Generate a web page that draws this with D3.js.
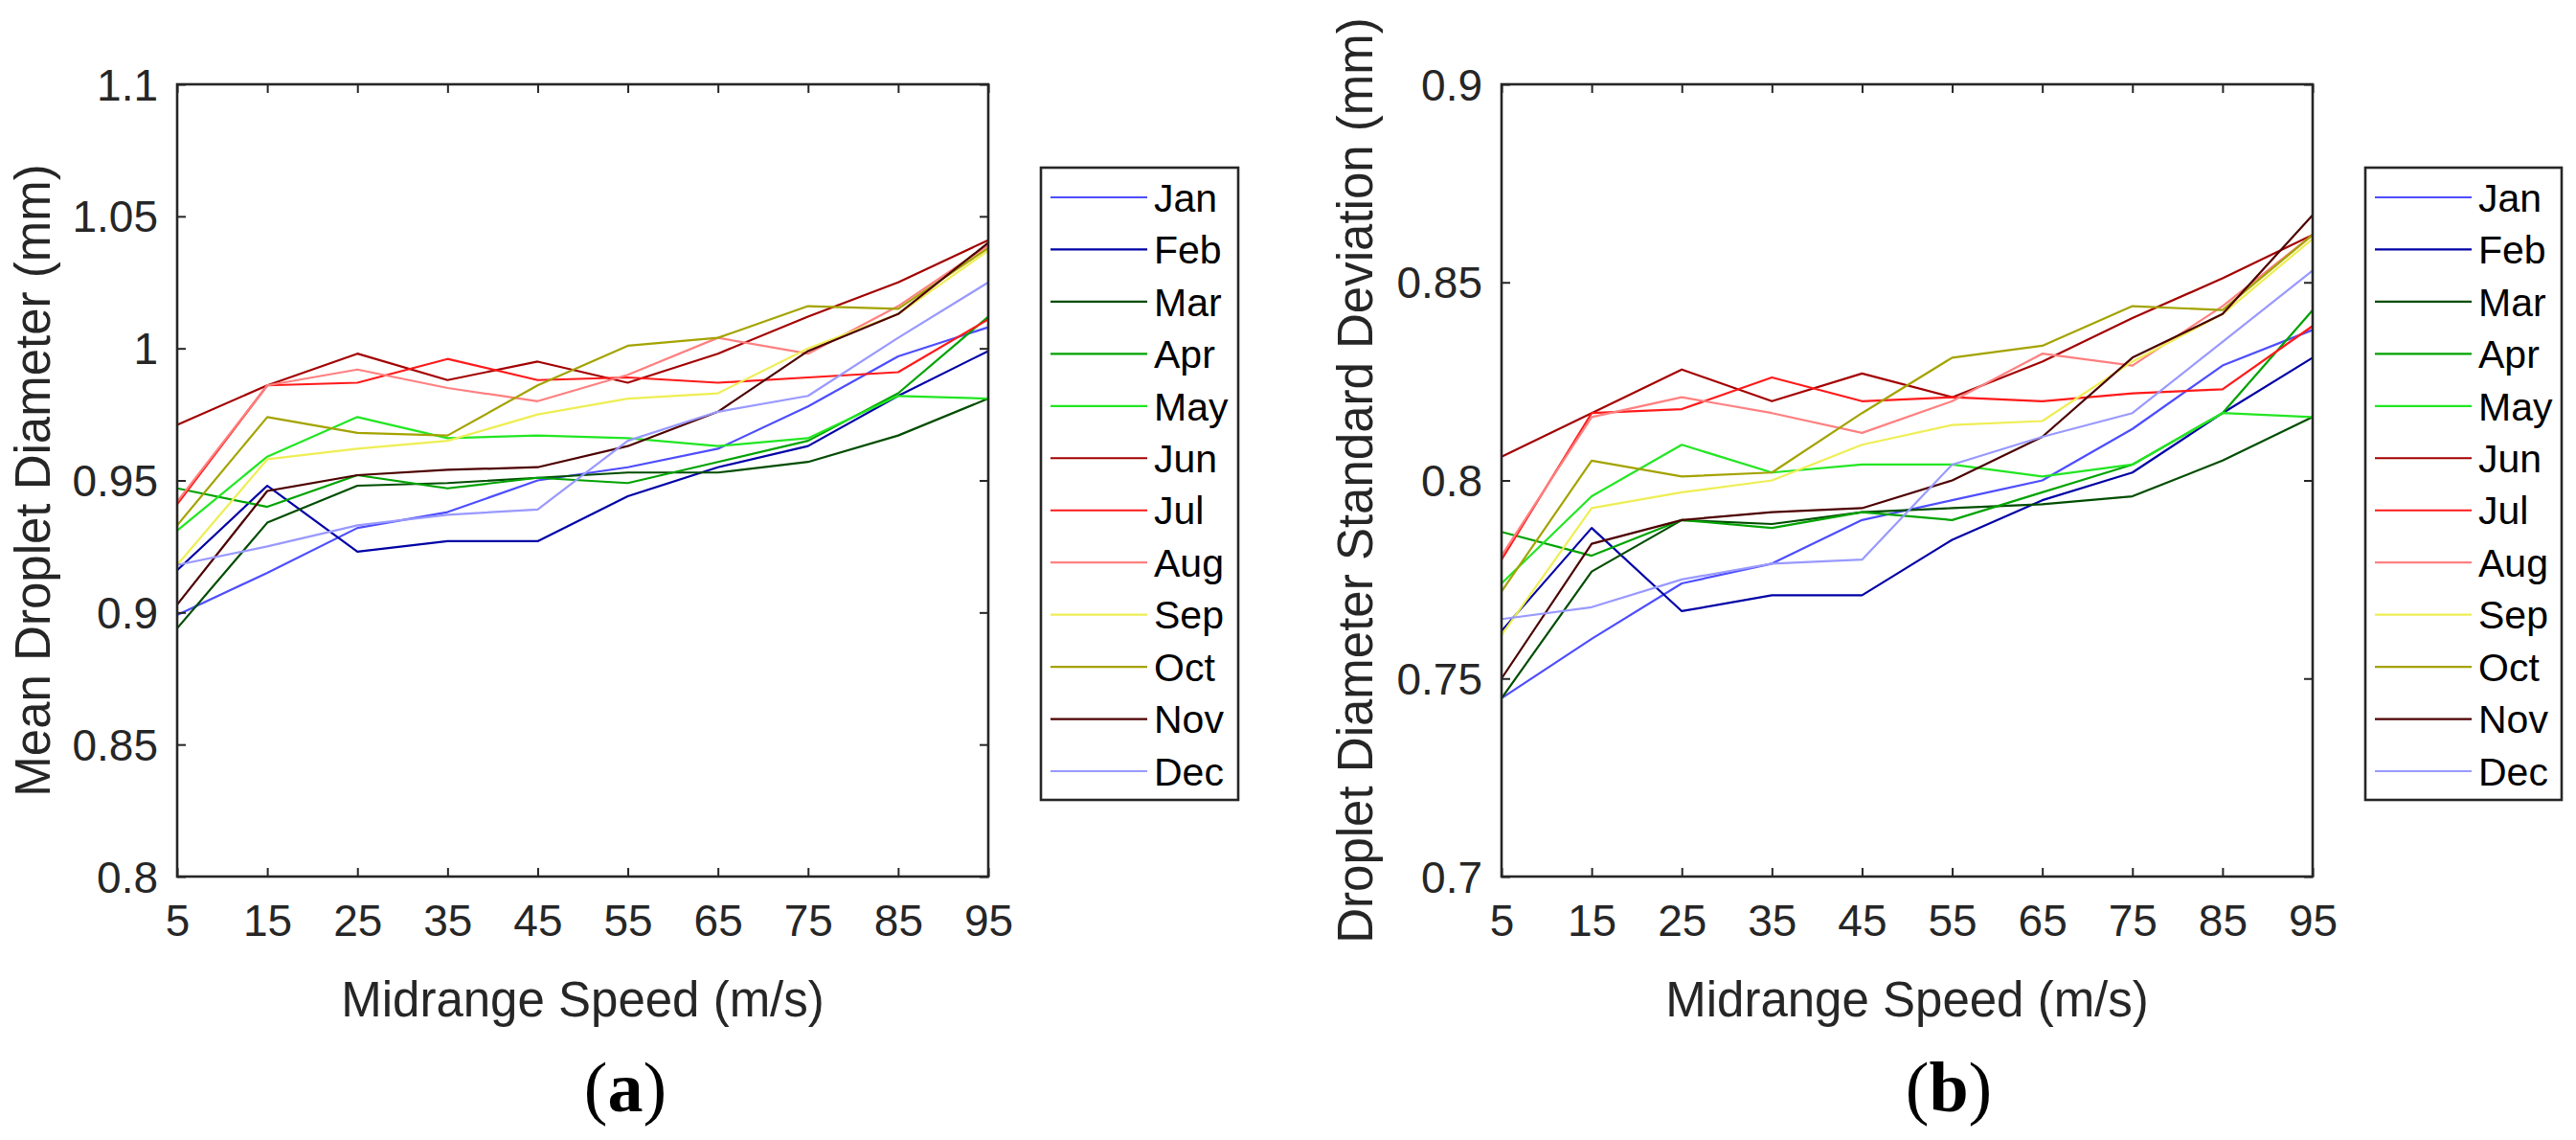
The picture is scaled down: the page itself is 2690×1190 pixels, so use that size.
<!DOCTYPE html>
<html>
<head>
<meta charset="utf-8">
<script src="https://cdn.jsdelivr.net/npm/d3@7/dist/d3.min.js"></script>
<style>
  html, body { margin: 0; padding: 0; background: #ffffff; }
  svg { display: block; }
</style>
</head>
<body>
<svg id="chart" width="2690" height="1190"></svg>
<script>
// ---------------- DATA ----------------
const months = ["Jan","Feb","Mar","Apr","May","Jun","Jul","Aug","Sep","Oct","Nov","Dec"];
const monthColors = ["#4d4dff","#0000a6","#004d00","#00a300","#22e622","#a30000",
                     "#ff1a1a","#ff8080","#eeee55","#a3a300","#4d0000","#9999ff"];
const speeds = [5, 15, 25, 35, 45, 55, 65, 75, 85, 95];

// (a) Mean droplet diameter (mm), one row per month
const meanDiameter = [
  [0.899, 0.915, 0.932, 0.938, 0.950, 0.955, 0.962, 0.978, 0.997, 1.008], // Jan
  [0.916, 0.948, 0.923, 0.927, 0.927, 0.944, 0.955, 0.963, 0.982, 0.999], // Feb
  [0.894, 0.934, 0.948, 0.949, 0.951, 0.953, 0.953, 0.957, 0.967, 0.981], // Mar
  [0.947, 0.940, 0.952, 0.947, 0.951, 0.949, 0.957, 0.965, 0.983, 1.012], // Apr
  [0.931, 0.959, 0.974, 0.966, 0.967, 0.966, 0.963, 0.966, 0.982, 0.981], // May
  [0.971, 0.986, 0.998, 0.988, 0.995, 0.987, 0.998, 1.012, 1.025, 1.041], // Jun
  [0.941, 0.986, 0.987, 0.996, 0.988, 0.989, 0.987, 0.989, 0.991, 1.011], // Jul
  [0.942, 0.986, 0.992, 0.985, 0.980, 0.990, 1.004, 0.998, 1.016, 1.039], // Aug
  [0.918, 0.958, 0.962, 0.965, 0.975, 0.981, 0.983, 1.000, 1.013, 1.037], // Sep
  [0.933, 0.974, 0.968, 0.967, 0.986, 1.001, 1.004, 1.016, 1.015, 1.038], // Oct
  [0.903, 0.946, 0.952, 0.954, 0.955, 0.963, 0.976, 0.999, 1.013, 1.040], // Nov
  [0.918, 0.925, 0.933, 0.937, 0.939, 0.965, 0.976, 0.982, 1.004, 1.025]  // Dec
];

// (b) Droplet diameter standard deviation (mm), one row per month
const stdDeviation = [
  [0.745, 0.760, 0.774, 0.779, 0.790, 0.795, 0.800, 0.813, 0.829, 0.838], // Jan
  [0.762, 0.788, 0.767, 0.771, 0.771, 0.785, 0.795, 0.802, 0.817, 0.831], // Feb
  [0.745, 0.777, 0.790, 0.789, 0.792, 0.793, 0.794, 0.796, 0.805, 0.816], // Mar
  [0.787, 0.781, 0.790, 0.788, 0.792, 0.790, 0.797, 0.804, 0.817, 0.843], // Apr
  [0.774, 0.796, 0.809, 0.802, 0.804, 0.804, 0.801, 0.804, 0.817, 0.816], // May
  [0.806, 0.817, 0.828, 0.820, 0.827, 0.821, 0.830, 0.841, 0.851, 0.862], // Jun
  [0.780, 0.817, 0.818, 0.826, 0.820, 0.821, 0.820, 0.822, 0.823, 0.839], // Jul
  [0.781, 0.816, 0.821, 0.817, 0.812, 0.820, 0.832, 0.829, 0.844, 0.862], // Aug
  [0.761, 0.793, 0.797, 0.800, 0.809, 0.814, 0.815, 0.830, 0.842, 0.861], // Sep
  [0.772, 0.805, 0.801, 0.802, 0.817, 0.831, 0.834, 0.844, 0.843, 0.862], // Oct
  [0.750, 0.784, 0.790, 0.792, 0.793, 0.800, 0.811, 0.831, 0.842, 0.867], // Nov
  [0.765, 0.768, 0.775, 0.779, 0.780, 0.804, 0.811, 0.817, 0.835, 0.853]  // Dec
];

const yTicksA = [0.8, 0.85, 0.9, 0.95, 1.0, 1.05, 1.1];
const yTicksB = [0.7, 0.75, 0.8, 0.85, 0.9];

// ---------------- DRAW ----------------
const svg = d3.select("#chart");
const axisColor = "#262626";
const sansFont = "'Liberation Sans', Arial, Helvetica, sans-serif";
const serifFont = "'Liberation Serif', 'Times New Roman', serif";

function panel(opts) {
  const { x0, x1, y0, y1, yDomain, yTicks, values, yLabel, yLabelX,
          legendX, legendW, tag, tagX } = opts;

  const x = d3.scaleLinear().domain([5, 95]).range([x0, x1]);
  const y = d3.scaleLinear().domain(yDomain).range([y1, y0]);
  const g = svg.append("g");

  // data lines
  const line = d3.line().x((d, i) => x(speeds[i])).y(d => y(d));
  values.forEach((row, k) => {
    g.append("path")
      .datum(row)
      .attr("d", line)
      .attr("fill", "none")
      .attr("stroke", monthColors[k])
      .attr("stroke-width", 2.2)
      .attr("stroke-linejoin", "round");
  });

  const tickLen = 9;
  const fmt = d => String(+d.toFixed(2));

  // bottom axis
  const bottom = g.append("g").attr("transform", `translate(0,${y1})`)
    .call(d3.axisBottom(x).tickValues(speeds).tickSize(-tickLen).tickPadding(0).tickFormat(d3.format("d")));
  bottom.selectAll("text").attr("dy", null).attr("y", 62)
    .attr("font-family", sansFont).attr("font-size", 46).attr("fill", axisColor);
  // top axis
  g.append("g").attr("transform", `translate(0,${y0})`)
    .call(d3.axisTop(x).tickValues(speeds).tickSize(-tickLen).tickFormat(""));
  // left axis
  const left = g.append("g").attr("transform", `translate(${x0},0)`)
    .call(d3.axisLeft(y).tickValues(yTicks).tickSize(-tickLen).tickPadding(0).tickFormat(fmt));
  left.selectAll("text").attr("x", -20).attr("dy", "0.35em")
    .attr("font-family", sansFont).attr("font-size", 46).attr("fill", axisColor);
  // right axis
  g.append("g").attr("transform", `translate(${x1},0)`)
    .call(d3.axisRight(y).tickValues(yTicks).tickSize(-tickLen).tickFormat(""));

  g.selectAll(".domain").remove();
  g.selectAll(".tick line").attr("stroke", axisColor).attr("stroke-width", 2);

  // frame
  g.append("rect").attr("x", x0).attr("y", y0).attr("width", x1 - x0).attr("height", y1 - y0)
    .attr("fill", "none").attr("stroke", axisColor).attr("stroke-width", 2.6);

  // axis labels
  g.append("text").attr("x", (x0 + x1) / 2).attr("y", 1061)
    .attr("text-anchor", "middle").attr("font-family", sansFont).attr("font-size", 51)
    .attr("fill", axisColor).text("Midrange Speed (m/s)");
  g.append("text").attr("transform", `translate(${yLabelX},${(y0 + y1) / 2}) rotate(-90)`)
    .attr("text-anchor", "middle").attr("font-family", sansFont).attr("font-size", 51)
    .attr("fill", axisColor).text(yLabel);

  // legend
  const ly0 = 175, ly1 = 835;
  const lg = g.append("g");
  lg.append("rect").attr("x", legendX).attr("y", ly0).attr("width", legendW).attr("height", ly1 - ly0)
    .attr("fill", "#ffffff").attr("stroke", axisColor).attr("stroke-width", 2.6);
  const ly = d3.scalePoint().domain(months).range([206, 805]);
  months.forEach((m, k) => {
    lg.append("line").attr("x1", legendX + 10).attr("x2", legendX + 111)
      .attr("y1", ly(m)).attr("y2", ly(m))
      .attr("stroke", monthColors[k]).attr("stroke-width", 2.2);
    lg.append("text").attr("x", legendX + 118).attr("y", ly(m)).attr("dy", "0.36em")
      .attr("font-family", sansFont).attr("font-size", 41).attr("fill", "#000000").text(m);
  });

  // sub-figure tag
  const t = g.append("text").attr("x", tagX).attr("y", 1160).attr("text-anchor", "middle")
    .attr("font-family", serifFont).attr("font-size", 74).attr("fill", "#000000");
  t.append("tspan").text("(");
  t.append("tspan").attr("font-weight", "bold").text(tag);
  t.append("tspan").text(")");
}

panel({
  x0: 185, x1: 1032, y0: 88, y1: 915,
  yDomain: [0.8, 1.1], yTicks: yTicksA, values: meanDiameter,
  yLabel: "Mean Droplet Diameter (mm)", yLabelX: 52,
  legendX: 1087, legendW: 206, tag: "a", tagX: 653
});

panel({
  x0: 1568, x1: 2415, y0: 88, y1: 915,
  yDomain: [0.7, 0.9], yTicks: yTicksB, values: stdDeviation,
  yLabel: "Droplet Diameter Standard Deviation (mm)", yLabelX: 1433,
  legendX: 2470, legendW: 205, tag: "b", tagX: 2035
});
</script>
</body>
</html>
